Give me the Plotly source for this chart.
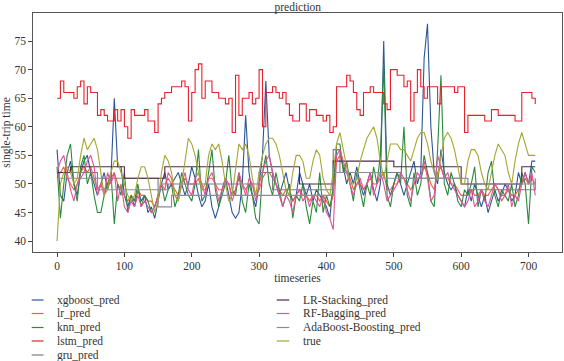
import plotly.graph_objects as go

# time index (every 5th step of the series)
timeseries = list(range(0, 715, 5))

xgboost_pred = [56,48,47,52,54,50,48,52,54,55,52,50,48,50,52,49,51,65,53,53,
                48,46,48,46,49,47,48,45,46,44,47,50,52,49,50,51,52,50,48,50,
                53,51,48,46,47,50,46,44,46,49,51,48,45,44,45,50,62,52,48,46,
                50,55,68,55,52,50,48,50,52,49,47,48,52,50,48,50,47,49,48,47,
                46,44,50,56,56,53,50,52,50,53,50,48,50,52,49,47,50,75,50,48,
                50,52,50,48,50,52,54,50,52,72,78,60,52,50,56,52,50,49,50,48,
                47,46,49,47,50,48,46,48,45,47,49,47,48,50,49,47,48,52,50,52,
                50,54,54]
lr_pred = [51,52,53,51,50,49,50,52,53,52,53,51,49,50,49,50,51,52,50,49,
           48,47,48,47,49,48,48,47,47,46,48,50,50,51,50,49,48,50,51,50,
           50,50,51,49,49,51,51,50,49,49,50,50,48,49,51,50,49,50,50,48,
           49,51,52,52,51,50,49,48,49,48,47,48,49,48,48,47,48,48,47,48,
           47,46,48,54,55,53,52,51,49,50,50,49,50,51,50,50,51,52,49,49,
           50,50,51,51,50,49,50,51,51,53,52,50,49,52,53,51,51,50,50,49,
           48,48,48,49,48,48,49,48,48,49,50,49,48,48,49,48,48,49,50,51,
           50,51,50]
knn_pred = [53,44,50,55,57,50,47,53,55,50,52,48,45,45,48,50,52,43,50,48,
            52,45,48,47,50,46,48,47,45,46,48,50,47,49,50,46,48,52,50,48,
            47,50,56,47,48,52,56,49,46,48,50,55,49,48,52,47,45,50,48,44,
            43,52,55,50,48,52,49,46,48,50,44,48,47,50,46,43,47,45,52,45,
            48,46,49,57,57,52,54,50,47,52,49,46,50,48,53,50,55,71,48,46,
            50,52,50,60,48,46,52,48,50,55,52,47,46,56,69,50,48,52,50,47,
            46,49,48,50,53,46,49,47,52,54,48,46,49,48,47,50,46,48,52,50,
            43,53,52]
lstm_pred = [65,68,66,66,66,65,67,68,64,67,66,66,62,63,62,61,61,63,61,63,
             60,58,63,62,62,62,63,61,61,59,64,65,66,66,67,67,67,68,67,61,
             66,70,71,65,68,68,66,66,65,65,64,65,59,69,62,65,65,66,64,65,
             70,60,66,66,67,66,65,66,64,62,61,61,64,64,61,63,63,62,62,61,
             62,59,60,67,67,67,69,68,66,63,62,66,66,67,66,66,66,64,63,70,
             70,69,69,67,68,61,66,70,67,65,67,67,67,64,67,67,67,67,66,67,
             67,59,62,62,62,62,62,61,61,63,63,62,62,62,62,62,61,61,66,66,
             66,65,64]
gru_pred = [52]*12 + [51]*18 + [49]*3 + [50]*27 + [52]*4 + [49]*18 + [56]*2 + [52]*18 + [51]*20 + [49]*20 + [51]*1
lr_stacking_pred = [52]*4 + [53]*16 + [51]*12 + [53]*40 + [50]*10 + [54]*18 + [53]*20 + [50]*18 + [53]*5
rf_bagging_pred = [52,54,55,52,49,47,50,51,52,54,55,53,48,50,48,52,50,52,47,50,
                   46,45,47,46,48,46,47,46,45,46,48,50,49,52,51,48,47,50,52,49,
                   48,51,52,50,48,51,52,50,47,49,51,50,47,49,52,50,48,51,50,47,
                   50,52,54,55,52,50,48,46,48,47,45,48,49,47,48,46,48,47,46,48,
                   45,44,42,55,56,54,52,50,48,50,51,49,50,52,48,50,52,50,47,48,
                   49,50,52,51,49,47,50,52,51,54,51,47,48,55,53,51,52,50,49,48,
                   47,46,47,49,46,47,49,47,46,48,50,49,47,48,50,46,48,47,50,52,
                   50,52,48]
adaboost_pred = [51]*12 + [49]*18 + [46]*4 + [48]*48 + [52]*14 + [51]*24 + [50]*23
true_vals = [40,50,52,53,52,50,51,55,58,56,57,58,56,52,48,49,52,54,54,52,
             50,48,47,48,51,53,53,51,48,45,47,52,55,54,52,48,47,50,54,58,
             57,55,52,49,50,55,57,56,57,54,50,47,48,53,57,56,57,55,51,48,
             52,55,57,58,58,57,55,52,49,48,52,55,55,54,51,51,54,56,55,51,
             49,48,52,57,59,56,53,50,50,51,54,56,58,59,60,58,54,51,54,57,
             57,57,56,56,55,54,56,58,59,59,57,54,52,51,55,58,59,58,56,53,
             50,50,54,56,56,55,52,50,49,52,55,57,56,55,52,50,54,57,59,57,
             55,55,55]

series_names = ["xgboost_pred", "lr_pred", "knn_pred", "lstm_pred", "gru_pred",
                "LR-Stacking_pred", "RF-Bagging_pred", "AdaBoost-Boosting_pred", "true"]
series_values = [xgboost_pred, lr_pred, knn_pred, lstm_pred, gru_pred,
                 lr_stacking_pred, rf_bagging_pred, adaboost_pred, true_vals]
series_colors = ["#2f5597", "#f0603c", "#2a8a3c", "#e8202a", "#7d7a86",
                 "#4e2a4a", "#e0529a", "#8e8a9c", "#a6a632"]
step_shape = {"lstm_pred", "gru_pred", "LR-Stacking_pred", "AdaBoost-Boosting_pred"}

for v in series_values:
    assert len(v) == len(timeseries), len(v)

FONT = "Liberation Serif"
fig = go.Figure()
for name, vals, col in zip(series_names, series_values, series_colors):
    fig.add_trace(go.Scatter(
        x=timeseries, y=vals, mode="lines", name=name,
        line=dict(color=col, width=1.1, shape="hv" if name in step_shape else "linear"),
        showlegend=False))

# manual two-column legend below the plot (plotly's min row height is too tall)
W, H = 529.0, 239.0
def px_to_paper(px, py):
    return (px - 33) / W, (252 - py) / H

rows = [300, 313.5, 327.5, 341, 355]
cols = [(31.7, 43.5, 54.5), (276.7, 289.3, 300.5)]
for i, (name, col) in enumerate(zip(series_names, series_colors)):
    c = 0 if i < 5 else 1
    r = i if i < 5 else i - 5
    x0, x1, xt = cols[c]
    py = rows[r]
    ax0, ay = px_to_paper(x0, py)
    ax1, _ = px_to_paper(x1, py)
    axt, _ = px_to_paper(xt, py)
    fig.add_shape(type="line", xref="paper", yref="paper", x0=ax0, x1=ax1, y0=ay, y1=ay,
                  line=dict(color=col, width=1.2))
    fig.add_annotation(xref="paper", yref="paper", x=axt, y=ay, text=name, showarrow=False,
                       xanchor="left", yanchor="middle", font=dict(family=FONT, size=11.5, color="#333"))

axis_common = dict(showline=True, linecolor="#555", linewidth=1.3, mirror=True,
                   ticks="outside", ticklen=3.5, tickcolor="#444", showgrid=False, zeroline=False,
                   tickfont=dict(family=FONT, size=11.5, color="#333"))
fig.update_layout(
    width=564, height=361,
    margin=dict(l=33, r=2, t=13, b=109),
    plot_bgcolor="white", paper_bgcolor="white",
    title=dict(text="prediction", x=0.528, xanchor="center", y=0.982, yanchor="middle",
               font=dict(family=FONT, size=11.5, color="#333")),
    xaxis=dict(range=[-35.7, 749.7], tickvals=[0, 100, 200, 300, 400, 500, 600, 700],
               title=dict(text="timeseries", standoff=2, font=dict(family=FONT, size=11.5, color="#333")),
               **axis_common),
    yaxis=dict(range=[38.1, 79.9], tickvals=[40, 45, 50, 55, 60, 65, 70, 75],
               title=dict(text="single-trip time", standoff=2, font=dict(family=FONT, size=11.5, color="#333")),
               **axis_common),
)
fig.write_html("out.html", config={"displayModeBar": False},
               post_script="document.body.style.margin='0';document.body.style.overflow='hidden';")
